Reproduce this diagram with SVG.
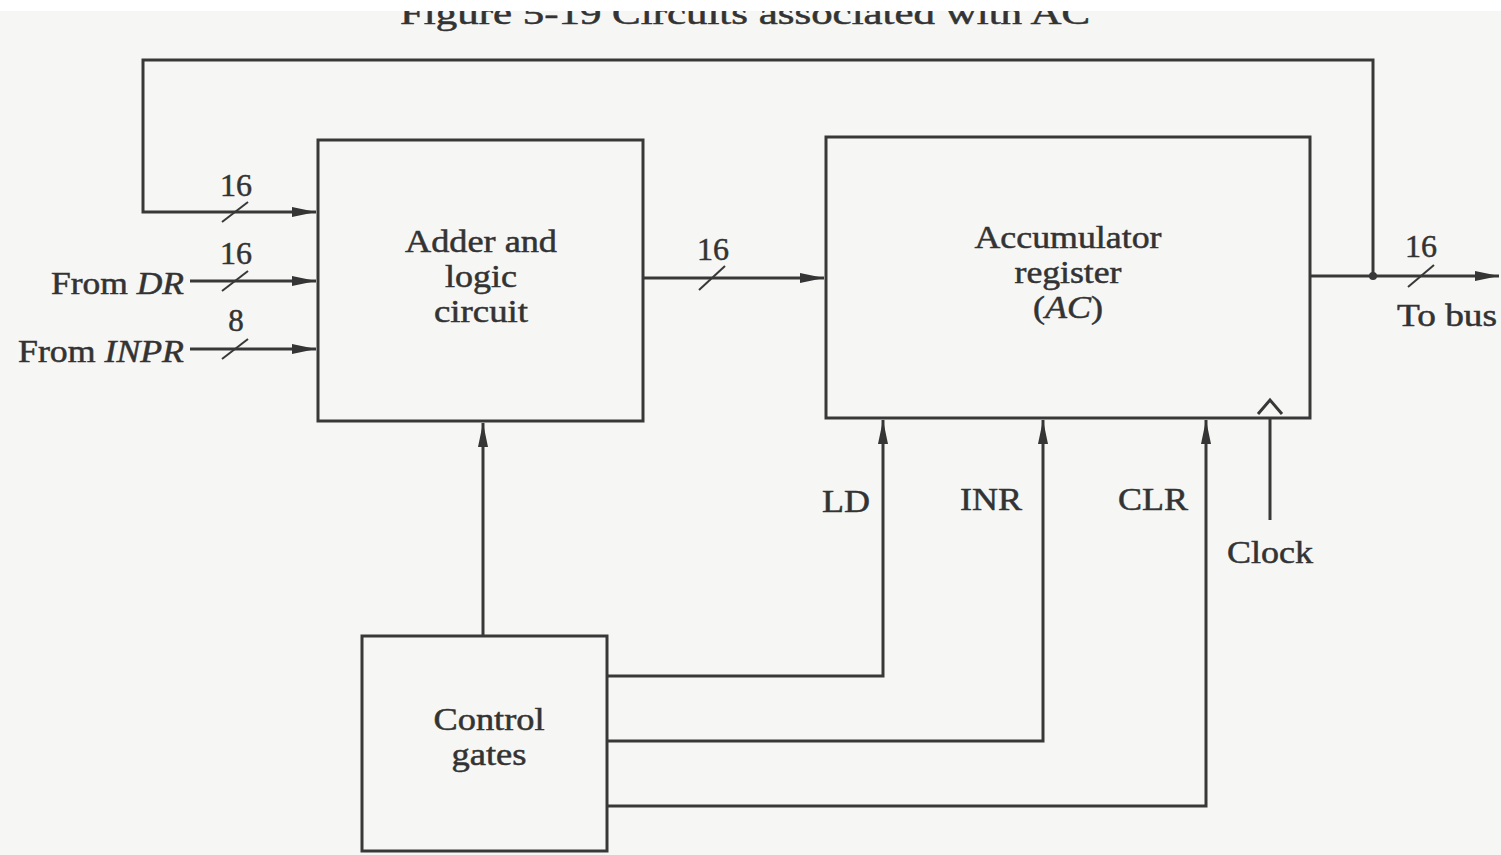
<svg xmlns="http://www.w3.org/2000/svg" width="1501" height="855" viewBox="0 0 1501 855">
  <defs>
    <marker id="arr" viewBox="0 0 24 12" refX="24" refY="6" markerWidth="24" markerHeight="12" markerUnits="userSpaceOnUse" orient="auto">
      <path d="M0,1 L24,6 L0,11 Z" fill="#353535"/>
    </marker>
    <style>
      .box { fill: none; stroke: #383838; stroke-width: 3; }
      .wire { fill: none; stroke: #383838; stroke-width: 3; }
      .slash { stroke: #383838; stroke-width: 2; }
      .t { font-family: "Liberation Serif", "Times New Roman", serif; font-size: 31px; fill: #333333; stroke: #333333; stroke-width: 0.5; }
      .c { text-anchor: middle; }
      .r { text-anchor: end; }
    </style>
  </defs>
  <rect width="1501" height="855" fill="#f6f6f4"/>

  <!-- caption, cut by the top edge -->
  <text class="t c" x="745" y="24" font-size="38" textLength="690" lengthAdjust="spacingAndGlyphs">Figure 5-19   Circuits associated with AC</text>
  <rect width="1501" height="11" fill="#ffffff"/>

  <g id="adder">
    <rect class="box" x="318" y="140" width="325" height="281"/>
    <text class="t c" x="481" y="252" textLength="152" lengthAdjust="spacingAndGlyphs">Adder and</text>
    <text class="t c" x="481" y="287" textLength="72" lengthAdjust="spacingAndGlyphs">logic</text>
    <text class="t c" x="481" y="322" textLength="94" lengthAdjust="spacingAndGlyphs">circuit</text>
  </g>

  <g id="accumulator">
    <rect class="box" x="826" y="137" width="484" height="281"/>
    <text class="t c" x="1068" y="248" textLength="187" lengthAdjust="spacingAndGlyphs">Accumulator</text>
    <text class="t c" x="1068" y="283" textLength="107" lengthAdjust="spacingAndGlyphs">register</text>
    <text class="t c" x="1068" y="318" textLength="70" lengthAdjust="spacingAndGlyphs">(<tspan font-style="italic">AC</tspan>)</text>
    <path class="wire" d="M1258,414 L1270,400 L1282,414" stroke-width="2"/>
  </g>

  <g id="control">
    <rect class="box" x="362" y="636" width="245" height="215"/>
    <text class="t c" x="489" y="730" textLength="111" lengthAdjust="spacingAndGlyphs">Control</text>
    <text class="t c" x="489" y="765" textLength="75" lengthAdjust="spacingAndGlyphs">gates</text>
  </g>

  <g id="connectors">
    <!-- AC output fed back to the adder -->
    <path class="wire" d="M1373,276 L1373,60 L143,60 L143,212 L316,212" marker-end="url(#arr)"/>
    <line class="slash" x1="222" y1="222" x2="248" y2="202"/>
    <text class="t c" x="236" y="196" textLength="32" lengthAdjust="spacingAndGlyphs">16</text>

    <!-- From DR -->
    <line class="wire" x1="190" y1="281" x2="316" y2="281" marker-end="url(#arr)"/>
    <line class="slash" x1="222" y1="291" x2="248" y2="271"/>
    <text class="t c" x="236" y="264" textLength="32" lengthAdjust="spacingAndGlyphs">16</text>
    <text class="t r" x="184" y="294" textLength="133" lengthAdjust="spacingAndGlyphs">From <tspan font-style="italic">DR</tspan></text>

    <!-- From INPR -->
    <line class="wire" x1="190" y1="349" x2="316" y2="349" marker-end="url(#arr)"/>
    <line class="slash" x1="222" y1="359" x2="248" y2="339"/>
    <text class="t c" x="236" y="331">8</text>
    <text class="t r" x="184" y="362" textLength="166" lengthAdjust="spacingAndGlyphs">From <tspan font-style="italic">INPR</tspan></text>

    <!-- adder to AC -->
    <line class="wire" x1="643" y1="278" x2="824" y2="278" marker-end="url(#arr)"/>
    <line class="slash" x1="699" y1="290" x2="725" y2="266"/>
    <text class="t c" x="713" y="260" textLength="32" lengthAdjust="spacingAndGlyphs">16</text>

    <!-- AC to bus -->
    <line class="wire" x1="1310" y1="276" x2="1499" y2="276" marker-end="url(#arr)"/>
    <circle cx="1373" cy="276" r="4" fill="#383838"/>
    <line class="slash" x1="1408" y1="287" x2="1434" y2="265"/>
    <text class="t c" x="1421" y="257" textLength="32" lengthAdjust="spacingAndGlyphs">16</text>
    <text class="t c" x="1447" y="326" textLength="100" lengthAdjust="spacingAndGlyphs">To bus</text>

    <!-- control gates to adder -->
    <line class="wire" x1="483" y1="636" x2="483" y2="423" marker-end="url(#arr)"/>

    <!-- LD, INR, CLR -->
    <path class="wire" d="M607,676 L883,676 L883,420" marker-end="url(#arr)"/>
    <text class="t c" x="846" y="512" textLength="48" lengthAdjust="spacingAndGlyphs">LD</text>
    <path class="wire" d="M607,741 L1043,741 L1043,420" marker-end="url(#arr)"/>
    <text class="t c" x="991" y="510" textLength="62" lengthAdjust="spacingAndGlyphs">INR</text>
    <path class="wire" d="M607,806 L1206,806 L1206,420" marker-end="url(#arr)"/>
    <text class="t c" x="1153" y="510" textLength="70" lengthAdjust="spacingAndGlyphs">CLR</text>

    <!-- clock -->
    <line class="wire" x1="1270" y1="520" x2="1270" y2="418"/>
    <text class="t c" x="1270" y="563" textLength="86" lengthAdjust="spacingAndGlyphs">Clock</text>
  </g>
</svg>
